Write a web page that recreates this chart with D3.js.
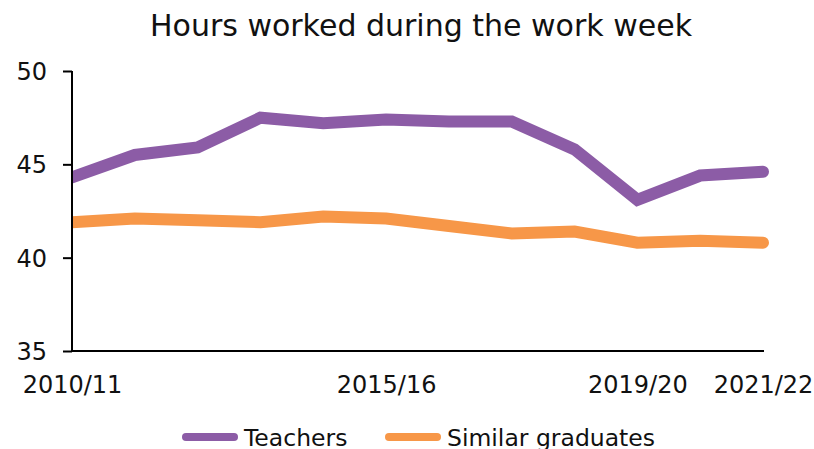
<!DOCTYPE html>
<html>
<head>
<meta charset="utf-8">
<script src="https://cdn.jsdelivr.net/npm/d3@7"></script>
<style>
  body { margin: 0; background: #fff; }
  text { font-family: "DejaVu Sans", sans-serif; fill: #111; }
</style>
</head>
<body>
<svg id="chart" width="814" height="449"></svg>
<script>
const years = ["2010/11", "2011/12", "2012/13", "2013/14", "2014/15", "2015/16",
  "2016/17", "2017/18", "2018/19", "2019/20", "2020/21", "2021/22"];
const teachers = [44.3, 45.5, 45.9, 47.5, 47.2, 47.4, 47.3, 47.3, 45.8, 43.1, 44.4, 44.6];
const graduates = [41.9, 42.1, 42.0, 41.9, 42.2, 42.1, 41.7, 41.3, 41.4, 40.8, 40.9, 40.8];
const xLabels = ["2010/11", "2015/16", "2019/20", "2021/22"];
const yTicks = [35, 40, 45, 50];

const svg = d3.select("#chart");

// escalas
const x = d3.scalePoint().domain(years).range([72, 763]);
const y = d3.scaleLinear().domain([35, 50]).range([351, 71]);

// titulo
svg.append("text")
  .attr("x", 421).attr("y", 36)
  .attr("text-anchor", "middle")
  .style("font-size", "30px")
  .text("Hours worked during the work week");

// recorte para que la linea empiece en el eje
svg.append("clipPath").attr("id", "clip")
  .append("rect").attr("x", 72).attr("y", 0).attr("width", 742).attr("height", 449);

const line = d3.line().x((d, i) => x(years[i])).y(d => y(d));

const series = [
  { name: "Teachers", values: teachers, color: "#8c5ca6" },
  { name: "Similar graduates", values: graduates, color: "#f79748" }
];

svg.append("g").attr("clip-path", "url(#clip)")
  .selectAll("path")
  .data(series)
  .enter()
  .append("path")
  .attr("d", d => line(d.values))
  .attr("fill", "none")
  .attr("stroke", d => d.color)
  .attr("stroke-width", 12)
  .attr("stroke-linejoin", "miter")
  .attr("stroke-linecap", "round");

// eje y
const yAxis = svg.append("g")
  .attr("transform", "translate(72,0)")
  .call(d3.axisLeft(y).tickValues(yTicks).tickSize(9).tickPadding(16));
yAxis.select(".domain").attr("stroke", "#000").attr("stroke-width", 2).attr("d", "M0,71V352");
yAxis.selectAll(".tick line").attr("stroke", "#000").attr("stroke-width", 2);
yAxis.selectAll(".tick text").style("font-size", "24px").attr("fill", "#111").attr("dy", "0.36em");

// eje x
const xAxis = svg.append("g")
  .attr("transform", "translate(0,351)")
  .call(d3.axisBottom(x).tickValues(xLabels).tickSize(0));
xAxis.select(".domain").attr("stroke", "#000").attr("stroke-width", 2).attr("d", "M71,0H764");
xAxis.selectAll(".tick text").style("font-size", "24px").attr("fill", "#111")
  .attr("y", 42).attr("dy", 0);

// leyenda
const legend = svg.append("g").selectAll("g")
  .data(series)
  .enter()
  .append("g")
  .attr("transform", (d, i) => `translate(${[182, 385][i]},437)`);

legend.append("line")
  .attr("x1", 4).attr("x2", 52)
  .attr("stroke", d => d.color)
  .attr("stroke-width", 8)
  .attr("stroke-linecap", "round");

legend.append("text")
  .attr("x", 62).attr("y", 9)
  .style("font-size", "23.5px")
  .text(d => d.name);
</script>
</body>
</html>
